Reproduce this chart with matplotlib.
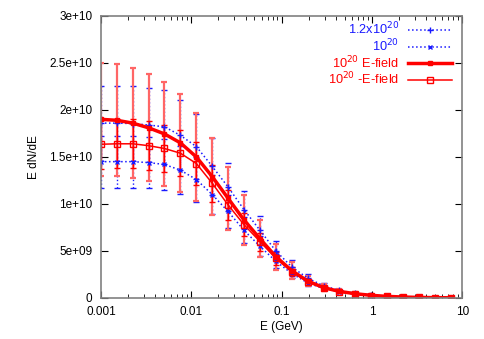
import matplotlib
matplotlib.use('Agg')
import matplotlib.pyplot as plt
from matplotlib.ticker import FixedLocator, LogLocator, NullFormatter, FuncFormatter

plt.rcParams['font.family'] = ['Liberation Sans', 'DejaVu Sans']
plt.rcParams['font.size'] = 8.5

# energy bins (GeV)
energy = [0.001, 0.0015, 0.00225, 0.003375, 0.00506, 0.00759, 0.0114, 0.0171,
          0.0256, 0.0384, 0.0577, 0.0865, 0.130, 0.195, 0.292, 0.438, 0.657,
          0.985, 1.48, 2.22, 3.33, 4.99, 7.48]

# E dN/dE in units of 1e10
dens_12 = [1.86, 1.86, 1.855, 1.84, 1.82, 1.73, 1.61, 1.40, 1.18, 0.94, 0.72, 0.50,
           0.33, 0.21, 0.13, 0.08, 0.05, 0.031, 0.019, 0.011, 0.0065, 0.0038, 0.0022]
dens_10 = [1.45, 1.45, 1.45, 1.44, 1.42, 1.36, 1.26, 1.10, 0.92, 0.72, 0.55, 0.39,
           0.26, 0.16, 0.10, 0.063, 0.04, 0.025, 0.015, 0.009, 0.0052, 0.003, 0.0018]
efield_pos = [1.90, 1.89, 1.86, 1.81, 1.745, 1.65, 1.50, 1.29, 1.06, 0.83, 0.63, 0.44,
              0.29, 0.18, 0.11, 0.07, 0.045, 0.028, 0.017, 0.010, 0.006, 0.0035, 0.002]
efield_neg = [1.635, 1.64, 1.64, 1.62, 1.59, 1.54, 1.43, 1.22, 0.99, 0.78, 0.60, 0.42,
              0.28, 0.17, 0.105, 0.066, 0.042, 0.026, 0.016, 0.0095, 0.0055, 0.0033, 0.0019]

# relative errors
rel_err_12 = 0.215
rel_err_10 = 0.19
rel_err_pos = 0.315
rel_err_neg = 0.16

labels = ['1.2x10$^{20}$', '10$^{20}$', '10$^{20}$ E-field', '10$^{20}$ -E-field']
y_ticks = [0, 5e9, 1e10, 1.5e10, 2e10, 2.5e10, 3e10]
y_tick_labels = ['0', '5e+09', '1e+10', '1.5e+10', '2e+10', '2.5e+10', '3e+10']


def scaled(vals):
    return [v * 1e10 for v in vals]


def errs(vals, rel):
    return [v * 1e10 * rel for v in vals]


fig = plt.figure(figsize=(4.85, 3.39), dpi=100)
ax = fig.add_axes([0.208, 0.121, 0.745, 0.832])

blue = '#1a1aff'
red = '#ff0000'

h1 = ax.errorbar(energy, scaled(dens_12), yerr=errs(dens_12, rel_err_12),
                 color=blue, ls=':', lw=1.1, marker='+', ms=4, mew=1,
                 elinewidth=1, capsize=2, capthick=1)
h1[2][0].set_linestyle(':')
h2 = ax.errorbar(energy, scaled(dens_10), yerr=errs(dens_10, rel_err_10),
                 color=blue, ls=':', lw=1.1, marker='x', ms=3.5, mew=1,
                 elinewidth=1, capsize=2, capthick=1)
h2[2][0].set_linestyle(':')
h3 = ax.errorbar(energy, scaled(efield_pos), yerr=errs(efield_pos, rel_err_pos),
                 color=red, ls='-', lw=2.5, marker='s', ms=3.5,
                 ecolor='#ff6666', elinewidth=1.6, capsize=2.5, capthick=1.6)
h4 = ax.errorbar(energy, scaled(efield_neg), yerr=errs(efield_neg, rel_err_neg),
                 color=red, ls='-', lw=1.1, marker='s', ms=4.5, mfc='none', mew=1,
                 elinewidth=1, capsize=2, capthick=1)

ax.set_xscale('log')
ax.set_xlim(0.001, 10)
ax.set_ylim(0, 3e10)
ax.xaxis.set_major_locator(FixedLocator([0.001, 0.01, 0.1, 1, 10]))
ax.xaxis.set_major_formatter(FuncFormatter(lambda v, p: '%g' % v))
ax.xaxis.set_minor_locator(LogLocator(base=10, subs=range(2, 10)))
ax.xaxis.set_minor_formatter(NullFormatter())
ax.set_yticks(y_ticks)
ax.set_yticklabels(y_tick_labels)

ax.tick_params(which='both', direction='in', top=True, right=True, color='black')
ax.tick_params(which='major', length=5, width=0.8, pad=6)
ax.tick_params(which='minor', length=3, width=0.6)
for sp in ax.spines.values():
    sp.set_color('#808080')
    sp.set_linewidth(1.2)

ax.set_xlabel('E (GeV)', labelpad=2)
ax.set_ylabel('E dN/dE', labelpad=7)

handles = [h1[0], h2[0], h3[0], h4[0]]
leg = ax.legend(handles, labels, loc='upper right', bbox_to_anchor=(0.985, 1.0),
                frameon=False, markerfirst=False, handlelength=3.4,
                labelspacing=0.0, borderaxespad=0.0, handletextpad=0.7,
                labelcolor=[blue, blue, red, red], fontsize=9.2)

fig.savefig('out.png', dpi=100)
